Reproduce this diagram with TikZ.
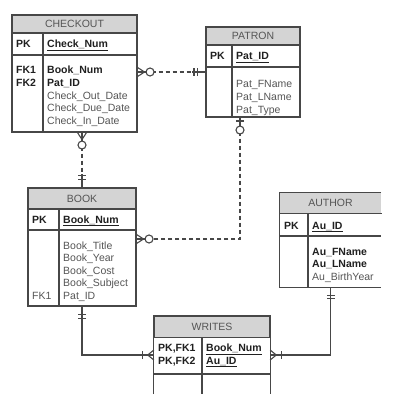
\documentclass[tikz,border=0pt]{standalone}
\usepackage{fontspec}
\setmainfont{Liberation Sans}
\definecolor{hdrgray}{HTML}{D4D4D4}
\definecolor{linegray}{HTML}{474747}
\definecolor{txtgray}{HTML}{555555}
\definecolor{keyblack}{HTML}{202020}
\newcommand{\keyf}[1]{{\color{keyblack}\bfseries #1}}
\tikzset{
  grid/.style={draw=linegray, line width=1.1pt},
  tbl/.style={grid, inner sep=0pt},
  hdr/.style={tbl, fill=hdrgray, text=txtgray, font=\fontsize{10.5}{12.6}\selectfont},
  fld/.style={anchor=base west, inner sep=0pt, align=left, text=txtgray, font=\fontsize{10.5}{12.6}\selectfont},
  key/.style={fld, text=keyblack, font=\fontsize{10.5}{12.6}\selectfont\bfseries},
  rel/.style={draw=linegray, line width=1.1pt},
  opt/.style={rel, dash pattern=on 4pt off 3pt},
  many0/.pic={
    \draw[rel] (0,0) -- (8.5,0);
    \draw[rel] (0,-4.5) -- (7,0) -- (0,4.5);
    \draw[rel, fill=white] (12.5,0) circle (4);
  },
  zeroone/.pic={
    \draw[rel] (0,0) -- (8.5,0);
    \draw[rel] (3.5,-4) -- (3.5,4);
    \draw[rel, fill=white] (12.5,0) circle (4);
  },
  onlyone/.pic={
    \draw[rel] (0,0) -- (13,0);
    \draw[rel] (8,-4) -- (8,4) (11.5,-4) -- (11.5,4);
  },
  onemany/.pic={
    \draw[rel] (0,0) -- (12,0);
    \draw[rel] (0,-5) -- (6,0) -- (0,5);
    \draw[rel] (11,-4) -- (11,4);
  }
}
\begin{document}
\begin{tikzpicture}[x=1pt,y=-1pt]
  \useasboundingbox (0,0) rectangle (401,419);

  % CHECKOUT
  \node[tbl, minimum width=125pt, minimum height=117pt] (checkout) at (74.5,73.5) {};
  \node[hdr, minimum width=125pt, minimum height=18pt, anchor=north] (checkout-hd) at (checkout.north) {CHECKOUT};
  \draw[grid] (43,33) -- (43,132);
  \draw[grid, line width=1.6pt] (12,55) -- (137,55);
  \node[key] (checkout-pk) at (16,48) {PK};
  \node[key] (checkout-id) at (47,48) {\underline{Check\_Num}};
  % base of a multi-line node = last line
  \node[key] (checkout-fk) at (16,86.6) {FK1\\FK2};
  \node[fld] (checkout-at) at (47,124.4) {\keyf{Book\_Num}\\\keyf{Pat\_ID}\\Check\_Out\_Date\\Check\_Due\_Date\\Check\_In\_Date};

  % PATRON
  \node[tbl, minimum width=94pt, minimum height=90pt] (patron) at (253,72) {};
  \node[hdr, minimum width=94pt, minimum height=18pt, anchor=north] (patron-hd) at (patron.north) {PATRON};
  \draw[grid] (232,45) -- (232,117);
  \draw[grid, line width=1.6pt] (206,67) -- (300,67);
  \node[key] (patron-pk) at (210,60) {PK};
  \node[key] (patron-id) at (236,60) {\underline{Pat\_ID}};
  \node[fld] (patron-at) at (236,113.2) {Pat\_FName\\Pat\_LName\\Pat\_Type};

  % BOOK
  \node[tbl, minimum width=108pt, minimum height=118pt] (book) at (82,247) {};
  \node[hdr, minimum width=108pt, minimum height=21pt, anchor=north] (book-hd) at (book.north) {BOOK};
  \draw[grid] (59,209) -- (59,306);
  \draw[grid, line width=1.6pt] (28,230) -- (136,230);
  \node[key] (book-pk) at (32,223) {PK};
  \node[key] (book-id) at (63,223) {\underline{Book\_Num}};
  \node[fld] (book-fk) at (32,299) {FK1};
  \node[fld] (book-at) at (63,299.4) {Book\_Title\\Book\_Year\\Book\_Cost\\Book\_Subject\\Pat\_ID};

  % AUTHOR (cut off at the right)
  \node[inner sep=0pt, minimum width=101pt, minimum height=94pt] (author) at (330.5,240) {};
  \node[hdr, draw=none, minimum width=101pt, minimum height=20pt, anchor=north] (author-hd) at (author.north) {AUTHOR};
  \draw[grid] (author.north east) -| (author.south west) -- (author.south east);
  \draw[grid] (author-hd.south west) -- (author-hd.south east);
  \draw[grid] (308,213) -- (308,287);
  \draw[grid, line width=1.6pt] (280,236) -- (381,236);
  \node[key] (author-pk) at (284,229) {PK};
  \node[key] (author-id) at (312,229) {\underline{Au\_ID}};
  \node[fld] (author-at) at (312,280.2) {\keyf{Au\_FName}\\\keyf{Au\_LName}\\Au\_BirthYear};

  % WRITES (cut off at the bottom)
  \node[inner sep=0pt, minimum width=116pt, minimum height=78pt] (writes) at (212,355) {};
  \node[hdr, minimum width=116pt, minimum height=21pt, anchor=north] (writes-hd) at (writes.north) {WRITES};
  \draw[grid] (writes.south west) |- (writes.north east) -- (writes.south east);
  \draw[grid] (202,337) -- (202,394);
  \draw[grid, line width=1.6pt] (154,374) -- (270,374);
  \node[key] (writes-pk) at (158,364) {PK,FK1\\PK,FK2};
  \node[key] (writes-id) at (206,364) {\underline{Book\_Num}\\\underline{Au\_ID}};

  % relationships
  \coordinate (pb) at (240,239);
  \draw[opt] (checkout.east |- patron) -- (patron.west);
  \draw[opt] (checkout.south -| book) -- (book.north);
  \draw[opt] (patron.south -| pb) |- (book.east |- pb);
  \draw[rel] (book.south) |- (writes.west);
  \draw[rel] (author.south) |- (writes.east);

  \pic at (checkout.east |- patron) {many0};
  \pic[rotate=180] at (patron.west) {onlyone};
  \pic[rotate=-90] at (checkout.south -| book) {many0};
  \pic[rotate=90] at (book.north) {onlyone};
  \pic[rotate=-90] at (patron.south -| pb) {zeroone};
  \pic at (book.east |- pb) {many0};
  \pic[rotate=-90] at (book.south) {onlyone};
  \pic[rotate=180] at (writes.west) {onemany};
  \pic[rotate=-90] at (author.south) {onlyone};
  \pic at (writes.east) {onemany};
\end{tikzpicture}
\end{document}
